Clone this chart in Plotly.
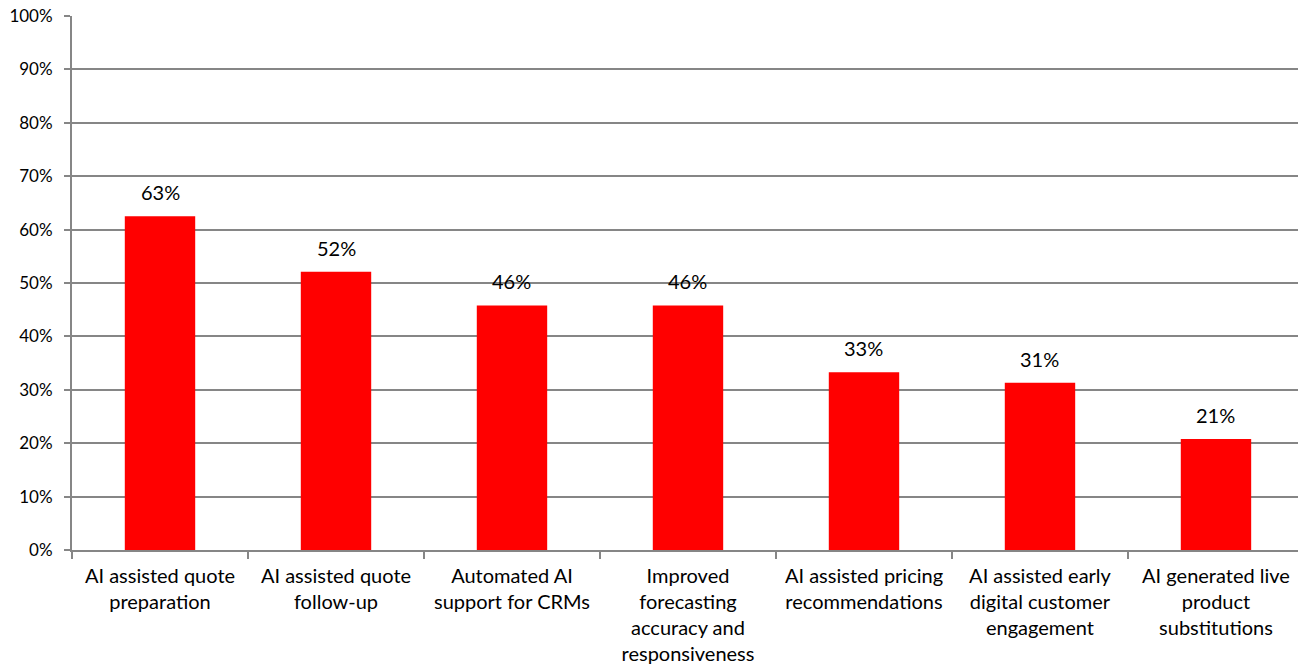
import plotly.graph_objects as go

categories = [
    "AI assisted quote<br>preparation",
    "AI assisted quote<br>follow-up",
    "Automated AI<br>support for CRMs",
    "Improved<br>forecasting<br>accuracy and<br>responsiveness",
    "AI assisted pricing<br>recommendations",
    "AI assisted early<br>digital customer<br>engagement",
    "AI generated live<br>product<br>substitutions",
]
values = [62.5, 52.1, 45.8, 45.8, 33.3, 31.3, 20.8]
labels = [f"{int(v + 0.5)}%" for v in values]

font_family = "Lato, 'Open Sans', sans-serif"
xpos = list(range(len(categories)))
boundaries = [i - 0.5 for i in range(len(categories) + 1)]

fig = go.Figure(
    go.Bar(
        x=xpos,
        y=values,
        marker=dict(color="#FF0000", line=dict(width=0)),
        width=0.4,
        hoverinfo="skip",
    )
)

for xi, v, lab in zip(xpos, values, labels):
    fig.add_annotation(
        x=xi, y=v, text=lab, showarrow=False,
        yanchor="bottom", yshift=10,
        font=dict(size=20, color="#000000", family=font_family),
    )

fig.update_layout(
    width=1298,
    height=665,
    margin=dict(l=72, r=0, t=16, b=115, autoexpand=False),
    plot_bgcolor="white",
    paper_bgcolor="white",
    showlegend=False,
    font=dict(family=font_family, size=15, color="#000000"),
    xaxis=dict(
        tickmode="array",
        tickvals=xpos,
        ticktext=categories,
        range=[-0.5, 6.466],
        showgrid=False,
        showline=True,
        linecolor="#868686",
        linewidth=2,
        ticks="outside",
        ticklen=7,
        tickcolor="rgba(0,0,0,0)",
        minor=dict(tickvals=boundaries, ticks="outside", ticklen=7,
                   tickcolor="#868686", tickwidth=2, showgrid=False),
        tickfont=dict(size=20, color="#000000", family=font_family),
        zeroline=False,
        automargin=False,
    ),
    yaxis=dict(
        range=[0, 100],
        dtick=10,
        ticksuffix="%",
        showgrid=True,
        gridcolor="#868686",
        gridwidth=1.5,
        showline=True,
        linecolor="#868686",
        linewidth=2,
        ticks="outside",
        ticklen=6,
        tickcolor="#868686",
        tickwidth=2,
        ticklabelstandoff=8,
        tickfont=dict(size=17, color="#000000", family=font_family),
        zeroline=False,
        automargin=False,
    ),
)

fig.write_html(
    "out.html",
    config={"displayModeBar": False},
    post_script="document.body.style.margin='0';document.body.style.overflow='hidden';",
)
